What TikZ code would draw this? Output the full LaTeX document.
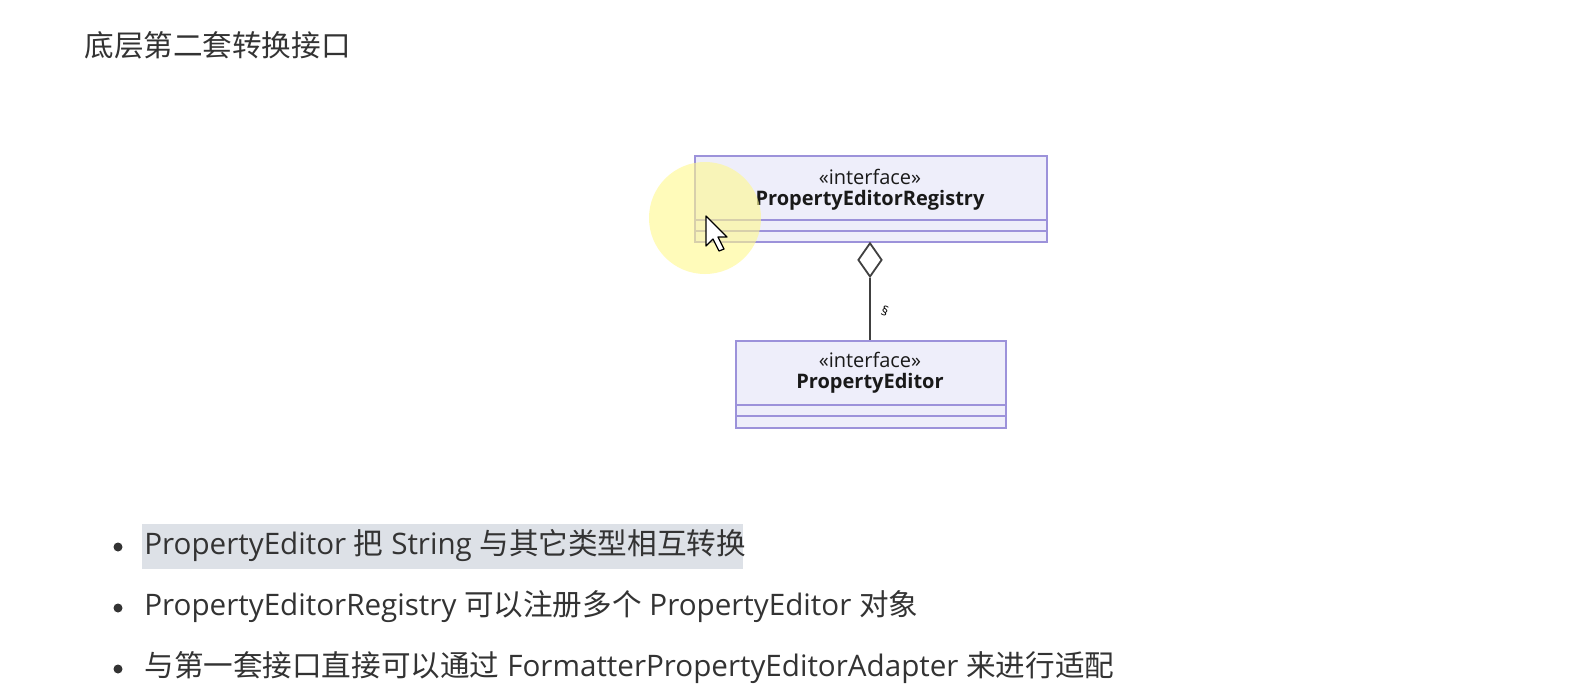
\documentclass[tikz,border=0pt]{standalone}
\usepackage{fontspec}
\setmainfont{Open Sans}
\newfontfamily\cjk{Noto Sans CJK SC}
\usetikzlibrary{shapes.geometric}
\definecolor{umlfill}{HTML}{EEEEFA}
\definecolor{umlline}{HTML}{9C92DA}
\definecolor{txt}{HTML}{333333}
\definecolor{hl}{HTML}{DDE1E7}
\tikzset{
  umlbox/.style={draw=umlline, line width=1.1pt, fill=umlfill},
  sep/.style={draw=umlline, line width=1.1pt},
  umltext/.style={inner sep=0pt, anchor=base, text=black!90, font=\fontsize{10pt}{12pt}\selectfont},
  stereo/.style={umltext, text depth=0pt, text height=6.5pt},
  bullettext/.style={anchor=west, inner sep=0pt, text=txt, font=\fontsize{14.8pt}{17pt}\selectfont},
  bulletdot/.style={circle, fill=txt, inner sep=0pt, minimum size=4.5pt},
}
\begin{document}
\begin{tikzpicture}[x=0.5pt,y=-0.5pt]
\useasboundingbox (0,0) rectangle (1571,691);
\fill[white] (0,0) rectangle (1571,691);
% title
\node[anchor=west, inner sep=0pt, text=txt, font=\cjk\fontsize{14.8pt}{17pt}\selectfont] (title) at (84,45) {底层第二套转换接口};
% top class
\node[umlbox, minimum width=176pt, minimum height=43pt, anchor=north west, inner sep=0pt] (reg) at (694,155) {};
\draw[sep] (694,220) -- (1046,220);
\draw[sep] (694,231) -- (1046,231);
\node[stereo] (regst) at (870,184) {«interface»};
\node[umltext, font=\bfseries\fontsize{10pt}{12pt}\selectfont] (regnm) at (870,205) {PropertyEditorRegistry};
% bottom class
\node[umlbox, minimum width=135pt, minimum height=43.5pt, anchor=north west, inner sep=0pt] (ed) at (735,340) {};
\draw[sep] (735,405) -- (1005,405);
\draw[sep] (735,416) -- (1005,416);
\node[stereo] (edst) at (870,367) {«interface»};
\node[umltext, font=\bfseries\fontsize{10pt}{12pt}\selectfont] (ednm) at (870,388) {PropertyEditor};
% aggregation
\node[diamond, draw=black!75, fill=white, line width=0.9pt, minimum width=12pt, minimum height=17pt, inner sep=0pt, anchor=north] (dia) at (870,242) {};
\draw[black!75, line width=1pt] (dia.south) -- (dia.south |- ed.north);
\node[font=\fontsize{6.5pt}{7pt}\selectfont, rotate=-20] (lbl) at (885,311) {§};
% cursor highlight
\fill[yellow!45!white, opacity=0.6] (705,218) circle (56);
\draw[black, fill=white, line width=0.6pt, line join=round] (706,216) -- (706,246) -- (713,239) -- (719,251) -- (724,249) -- (718,237) -- (727,237) -- cycle;
% bullets
\fill[hl] (142,524) rectangle (743,569);
\node[bulletdot] (b1) at (118,547) {};
\node[bullettext] (t1) at (144,546) {PropertyEditor {\cjk 把} String {\cjk 与其它类型相互转换}};
\node[bulletdot] (b2) at (118,608) {};
\node[bullettext] (t2) at (144,607) {PropertyEditorRegistry {\cjk 可以注册多个} PropertyEditor {\cjk 对象}};
\node[bulletdot] (b3) at (118,669) {};
\node[bullettext] (t3) at (144,668) {{\cjk 与第一套接口直接可以通过} FormatterPropertyEditorAdapter {\cjk 来进行适配}};
\end{tikzpicture}
\end{document}
